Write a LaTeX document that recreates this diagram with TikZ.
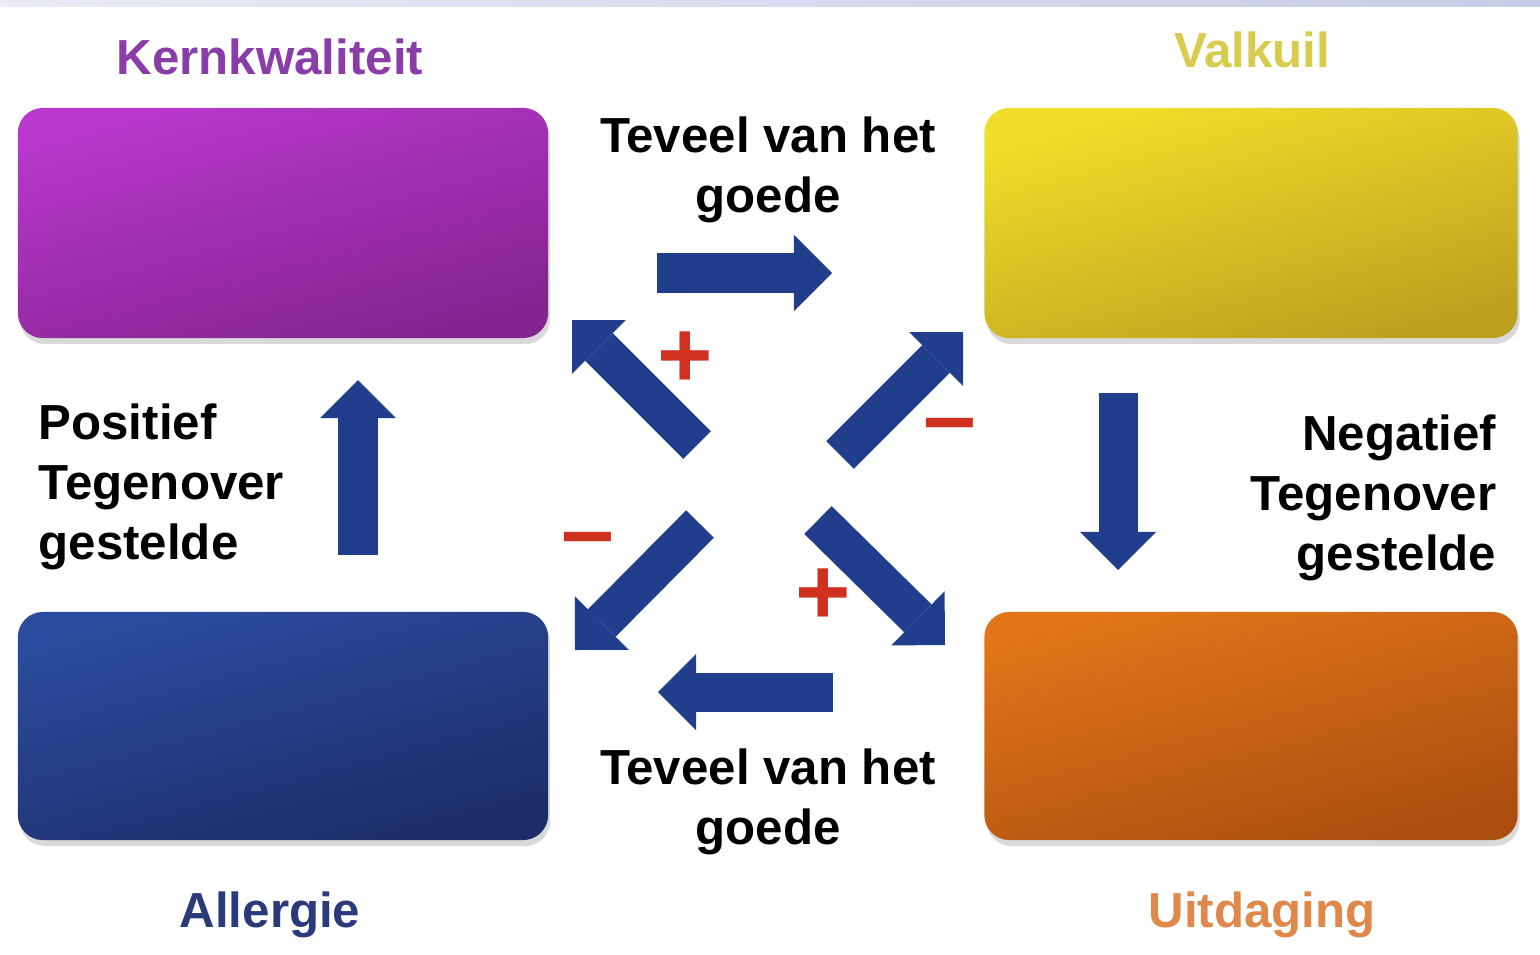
\documentclass[tikz,border=0pt]{standalone}
\usepackage{fontspec}
\setmainfont{Liberation Sans}
\usetikzlibrary{arrows.meta,shadows}

\definecolor{paarsboven}{HTML}{B838CC}
\definecolor{paarsonder}{HTML}{83248F}
\definecolor{geelboven}{HTML}{F2DE2A}
\definecolor{geelonder}{HTML}{BDA01E}
\definecolor{blauwboven}{HTML}{2B4C9E}
\definecolor{blauwonder}{HTML}{1D2D68}
\definecolor{oranjeboven}{HTML}{E27518}
\definecolor{oranjeonder}{HTML}{AC4E10}
\definecolor{pijlblauw}{HTML}{213E8C}
\definecolor{tekenrood}{HTML}{D0301E}
\definecolor{titelpaars}{HTML}{8A3CA8}
\definecolor{titelgeel}{HTML}{D8CB4E}
\definecolor{titelblauw}{HTML}{2B3A7A}
\definecolor{titeloranje}{HTML}{E0884A}
\definecolor{band}{HTML}{C8CCE6}

\tikzset{
	vak/.style={rounded corners=0.25cm, minimum width=5.3cm, minimum height=2.3cm,
		drop shadow={shadow xshift=0.02cm, shadow yshift=-0.06cm, opacity=0.15, fill=black}},
	pijl/.style={draw=pijlblauw, line width=0.39cm, -{Triangle[width=0.76cm,length=0.38cm,line width=0pt]}},
	tekst/.style={inner sep=0pt, font=\fontsize{14}{17}\selectfont\bfseries},
	teken/.style={inner sep=0pt, text=tekenrood, font=\fontsize{27}{27}\selectfont\bfseries}
}

\begin{document}
\begin{tikzpicture}[x=0.01cm, y=-0.01cm]%kernkwadrant
		\useasboundingbox (0,0) rectangle (1540,954);
		\shade[left color=band!40, right color=band] (0,0) rectangle (1540,6);
		
		\node[vak, top color=paarsboven, bottom color=paarsonder, shading angle=15] (kern) at (283,223) {};
		\node[vak, top color=geelboven, bottom color=geelonder, shading angle=15, minimum width=5.33cm] (valkuil) at (1251,223) {};
		\node[vak, top color=blauwboven, bottom color=blauwonder, shading angle=15, minimum height=2.28cm] (allergie) at (283,726) {};
		\node[vak, top color=oranjeboven, bottom color=oranjeonder, shading angle=15, minimum width=5.33cm, minimum height=2.28cm] (uitdaging) at (1251,726) {};
		
		\node[tekst, text=titelpaars] (tkern) at (270,57) {Kernkwaliteit};
		\node[tekst, text=titelgeel] (tvalkuil) at (1252,50) {Valkuil};
		\node[tekst, text=titelblauw] (tallergie) at (270,915) {Allergie};
		\node[tekst, text=titeloranje] (tuitdaging) at (1262,915) {Uitdaging};
		
		\node[tekst, align=center] (teveelboven) at (768,170) {Teveel van het\\goede};
		\node[tekst, align=center] (teveelonder) at (768,802) {Teveel van het\\goede};
		\node[tekst, align=left, anchor=west] (positief) at (38,487) {Positief\\Tegenover\\gestelde};
		\node[tekst, align=right, anchor=east] (negatief) at (1497,498) {Negatief\\Tegenover\\gestelde};
		
		\foreach \n/\x/\y in {a1/657/273, a2/832/273, b1/833/692, b2/658/692,
			c1/358/555, c2/358/380, d1/1118/393, d2/1118/570,
			e1/697/445, e2/572/320, f1/840/455, f2/963/332,
			g1/700/524, g2/575/650, h1/818/520, h2/945/645} {
			\coordinate (\n) at (\x,\y);}
		\foreach \van/\naar in {a1/a2, b1/b2, c1/c2, d1/d2, e1/e2, f1/f2, g1/g2, h1/h2} {
			\draw[pijl] (\van) -- (\naar);}
		
		\node[teken] (plus1) at (685,360) {+};
		\node[teken] (plus2) at (823,597) {+};
		\node[teken] (min1) at (950,433) {–};
		\node[teken] (min2) at (588,547) {–};
	\end{tikzpicture}
\end{document}
